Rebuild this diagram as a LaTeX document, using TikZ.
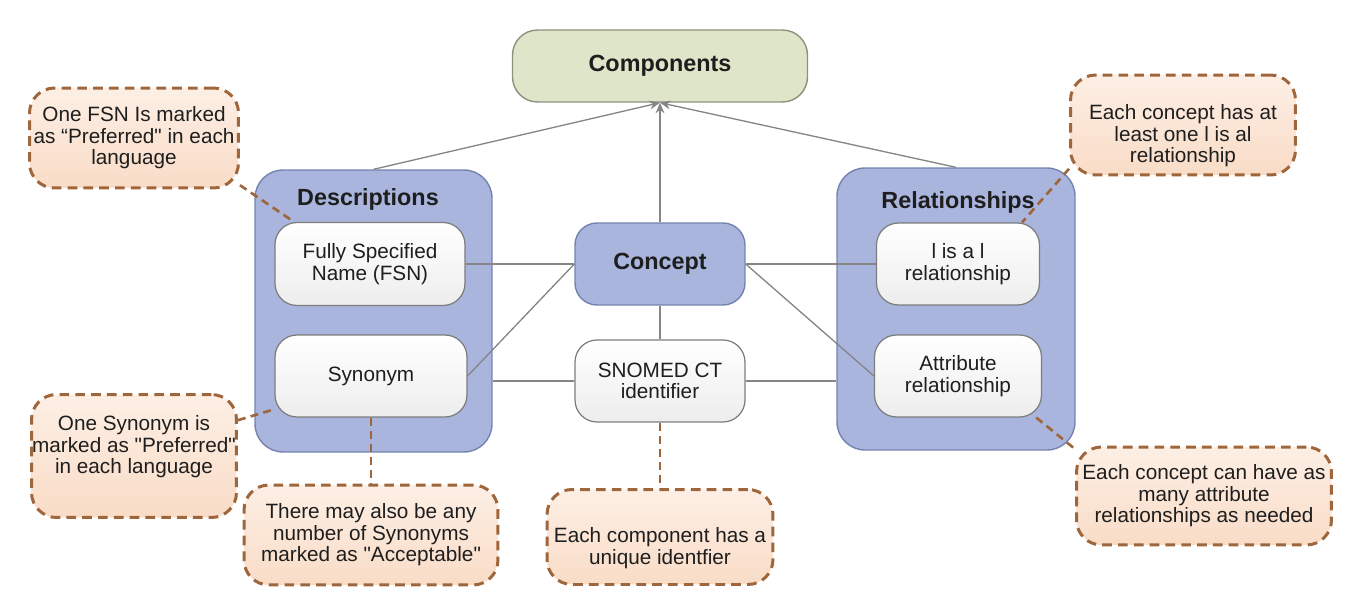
\documentclass[tikz,border=0pt]{standalone}
\usepackage{fontspec}
\setmainfont{Liberation Sans}[Ligatures=TeXOff]
\usetikzlibrary{arrows.meta}
\definecolor{grp}{HTML}{A9B5DD}
\definecolor{grpline}{HTML}{7482B0}
\definecolor{comp}{HTML}{DEE5C8}
\definecolor{compline}{HTML}{8C927C}
\definecolor{noteTop}{HTML}{FDEFE5}
\definecolor{noteBot}{HTML}{F9DCC7}
\definecolor{noteL}{HTML}{9F653B}
\definecolor{wline}{HTML}{7D7D7D}
\definecolor{conn}{HTML}{858585}
\definecolor{txt}{HTML}{1E1E1E}
\begin{document}
\begin{tikzpicture}[x=0.02cm,y=-0.02cm,
  every node/.style={text=txt},
  reg/.style={font=\fontsize{11.8}{12.2}\selectfont, align=center},
  bld/.style={font=\fontsize{13.3}{14}\selectfont\bfseries, align=center},
  group/.style={draw=grpline, fill=grp, line width=0.8pt, rounded corners=0.56cm, inner sep=0pt},
  wbox/.style={draw=wline, top color=white, bottom color=black!7, line width=0.7pt, rounded corners=0.44cm, inner sep=0pt, reg},
  cbox/.style={draw=grpline, fill=grp, line width=0.8pt, rounded corners=0.44cm, inner sep=0pt, bld},
  compbox/.style={draw=compline, fill=comp, line width=0.8pt, rounded corners=0.5cm, inner sep=0pt, bld},
  note/.style={draw=noteL, top color=noteTop, bottom color=noteBot, line width=1.7pt, dash pattern=on 5.5pt off 3.5pt, rounded corners=0.5cm, inner sep=0pt},
  link/.style={draw=conn, line width=0.75pt},
  uplink/.style={link, -{Stealth[length=6pt,width=5pt]}},
  notelink/.style={draw=noteL, line width=1.5pt, dash pattern=on 4.5pt off 3pt},
]
\useasboundingbox (0,0) rectangle (1360,608);

% groups
\node[group, minimum width=4.74cm, minimum height=5.64cm] (desc) at (373.5,311) {};
\node[group, minimum width=4.76cm, minimum height=5.64cm] (rel) at (956,309) {};
\node[bld] (dtitle) at (368,199) {Descriptions};
\node[bld] (rtitle) at (958,202) {Relationships};

% main nodes
\node[compbox, minimum width=5.9cm, minimum height=1.44cm] (comp) at (660,66) {Components};
\node[wbox, minimum width=3.8cm, minimum height=1.66cm] (fsn) at (370,264) {Fully Specified\\Name (FSN)};
\node[wbox, minimum width=3.84cm, minimum height=1.64cm] (syn) at (371,376) {Synonym};
\node[cbox, minimum width=3.4cm, minimum height=1.64cm] (concept) at (660,264) {Concept};
\node[wbox, minimum width=3.4cm, minimum height=1.64cm] (snomed) at (660,381) {SNOMED CT\\identifier};
\node[wbox, minimum width=3.26cm, minimum height=1.64cm] (isa) at (958,264) {l is a l\\relationship};
\node[wbox, minimum width=3.34cm, minimum height=1.64cm] (attr) at (958,376) {Attribute\\relationship};

% notes
\node[note, minimum width=4.18cm, minimum height=2cm, label={[reg]center:{One FSN Is marked\\as “Preferred" in each\\language}}] (n1) at (134,138) {};
\node[note, minimum width=4.5cm, minimum height=2cm, label={[reg, yshift=-0.22cm]center:{Each concept has at\\least one l is al\\relationship}}] (n2) at (1183,125) {};
\node[note, minimum width=4.1cm, minimum height=2.46cm, label={[reg, yshift=0.18cm]center:{One Synonym is\\marked as "Preferred"\\in each language}}] (n3) at (134,456) {};
\node[note, minimum width=5.08cm, minimum height=2cm, label={[reg]center:{There may also be any\\number of Synonyms\\marked as "Acceptable"}}] (n4) at (371,535) {};
\node[note, minimum width=4.52cm, minimum height=1.9cm, label={[reg, yshift=-0.22cm]center:{Each component has a\\unique identfier}}] (n5) at (660,537) {};
\node[note, minimum width=5.1cm, minimum height=1.96cm, label={[reg]center:{Each concept can have as\\many attribute\\relationships as needed}}] (n6) at (1204,496) {};

% connectors
\draw[uplink] (desc.north) -- (comp.south);
\draw[uplink] (concept.north) -- (comp.south);
\draw[uplink] (rel.north) -- (comp.south);
\draw[link] (fsn.east) -- (concept.west);
\draw[link] (syn.east) -- (concept.west);
\draw[link] (snomed.west) -- (snomed.west -| desc.east);
\draw[link] (concept.south) -- (snomed.north);
\draw[link] (concept.east) -- (isa.west);
\draw[link] (concept.east) -- (attr.west);
\draw[link] (snomed.east) -- (snomed.east -| rel.west);

% note connectors
\draw[notelink] (n1.-24) -- (fsn.151);
\draw[notelink] (n2.201) -- (isa.33);
\draw[notelink] (n3.19) -- (syn.199);
\draw[notelink] (syn.south) -- (n4.north);
\draw[notelink] (snomed.south) -- (n5.north);
\draw[notelink] (attr.-28) -- (n6.160);
\end{tikzpicture}
\end{document}
